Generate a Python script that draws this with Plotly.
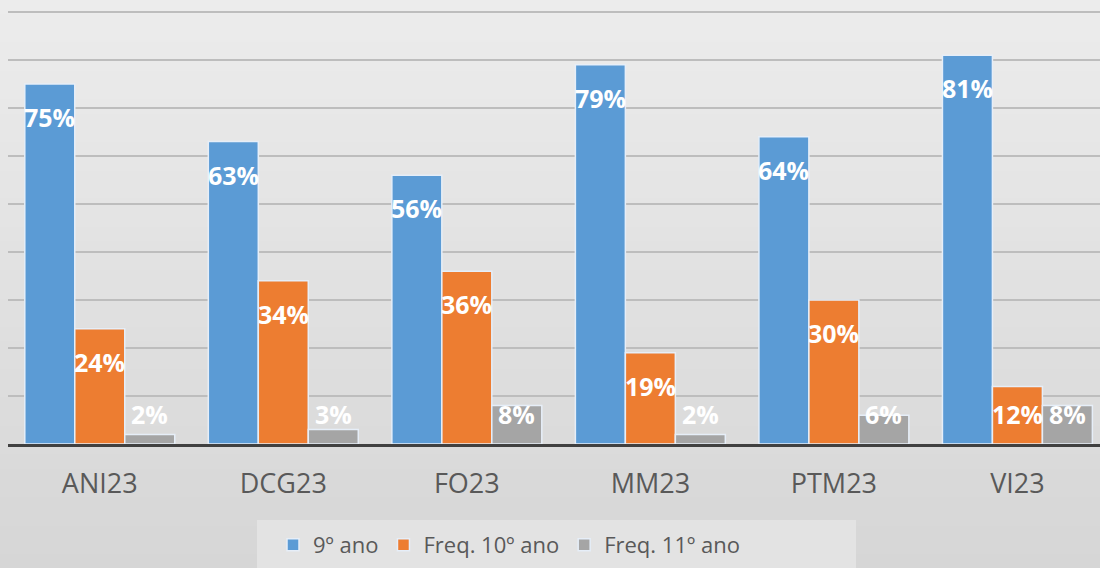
import plotly.graph_objects as go

categories = ["ANI23", "DCG23", "FO23", "MM23", "PTM23", "VI23"]
ano9 = [75, 63, 56, 79, 64, 81]
freq10 = [24, 34, 36, 19, 30, 12]
freq11 = [2, 3, 8, 2, 6, 8]
series_names = ["9º ano", "Freq. 10º ano", "Freq. 11º ano"]
colors = ["#5B9BD5", "#ED7D31", "#A5A5A5"]
series = [ano9, freq10, freq11]

W, H = 1100, 568
ML, MB = 8, 124
PW, PH = W - ML, H - MB

fig = go.Figure()
for name, vals, col in zip(series_names, series, colors):
    fig.add_trace(go.Bar(
        x=categories, y=vals, name=name,
        marker=dict(color=col, line=dict(color="#e6eef8", width=1.5)),
        hoverinfo="skip",
    ))

# data labels
offsets = [-1, 0, 1]
annotations = []
for k, vals in enumerate(series):
    for i, v in enumerate(vals):
        annotations.append(dict(
            x=i + offsets[k] * 0.2725, y=max(v, 13.1), xref="x", yref="y",
            text=f"{v}%", showarrow=False, yshift=-33,
            font=dict(family="Open Sans", size=25, color="white", weight="bold"),
        ))

# background gradient bands
shapes = []
n = 40
for j in range(n):
    t = j / (n - 1)
    c = int(round(0xec - (0xec - 0xd6) * t))
    shapes.append(dict(type="rect", xref="paper", yref="paper",
                       x0=-0.1, x1=1.1,
                       y0=1 - ((j + 1) * H / n) / PH - 0.002,
                       y1=1 - (j * H / n) / PH,
                       fillcolor=f"rgb({c},{c},{c})", line=dict(width=0), layer="below"))

# legend panel
shapes.append(dict(type="rect", xref="paper", yref="paper",
                   x0=(257 - ML) / PW, x1=(856 - ML) / PW,
                   y0=(PH - 575) / PH, y1=(PH - 520) / PH,
                   fillcolor="#e3e3e3", line=dict(width=0), layer="below"))

fig.update_layout(
    width=W, height=H,
    margin=dict(l=ML, r=0, t=0, b=MB),
    paper_bgcolor="#dedede", plot_bgcolor="rgba(0,0,0,0)",
    barmode="group", bargap=0.183, bargroupgap=0,
    showlegend=True,
    legend=dict(orientation="h", x=(273 - ML) / PW, xanchor="left", y=-0.18, yanchor="top",
                bgcolor="rgba(0,0,0,0)", font=dict(family="Open Sans", size=22, color="#595959"),
                itemwidth=30),
    annotations=annotations,
    shapes=shapes,
    xaxis=dict(range=[-0.5, 5.45], showline=True, linecolor="#404040", linewidth=3,
               ticks="outside", ticklen=14, tickcolor="rgba(0,0,0,0)",
               tickfont=dict(family="Open Sans", size=27, color="#595959"),
               showgrid=False, zeroline=False),
    yaxis=dict(range=[0, 92.5], dtick=10, showticklabels=False, showgrid=True,
               gridcolor="#bdbdbd", gridwidth=2, zeroline=False),
)
fig.write_html("out.html", config={"displayModeBar": False},
               post_script="document.body.style.margin='0';document.body.style.background='#dedede';")
